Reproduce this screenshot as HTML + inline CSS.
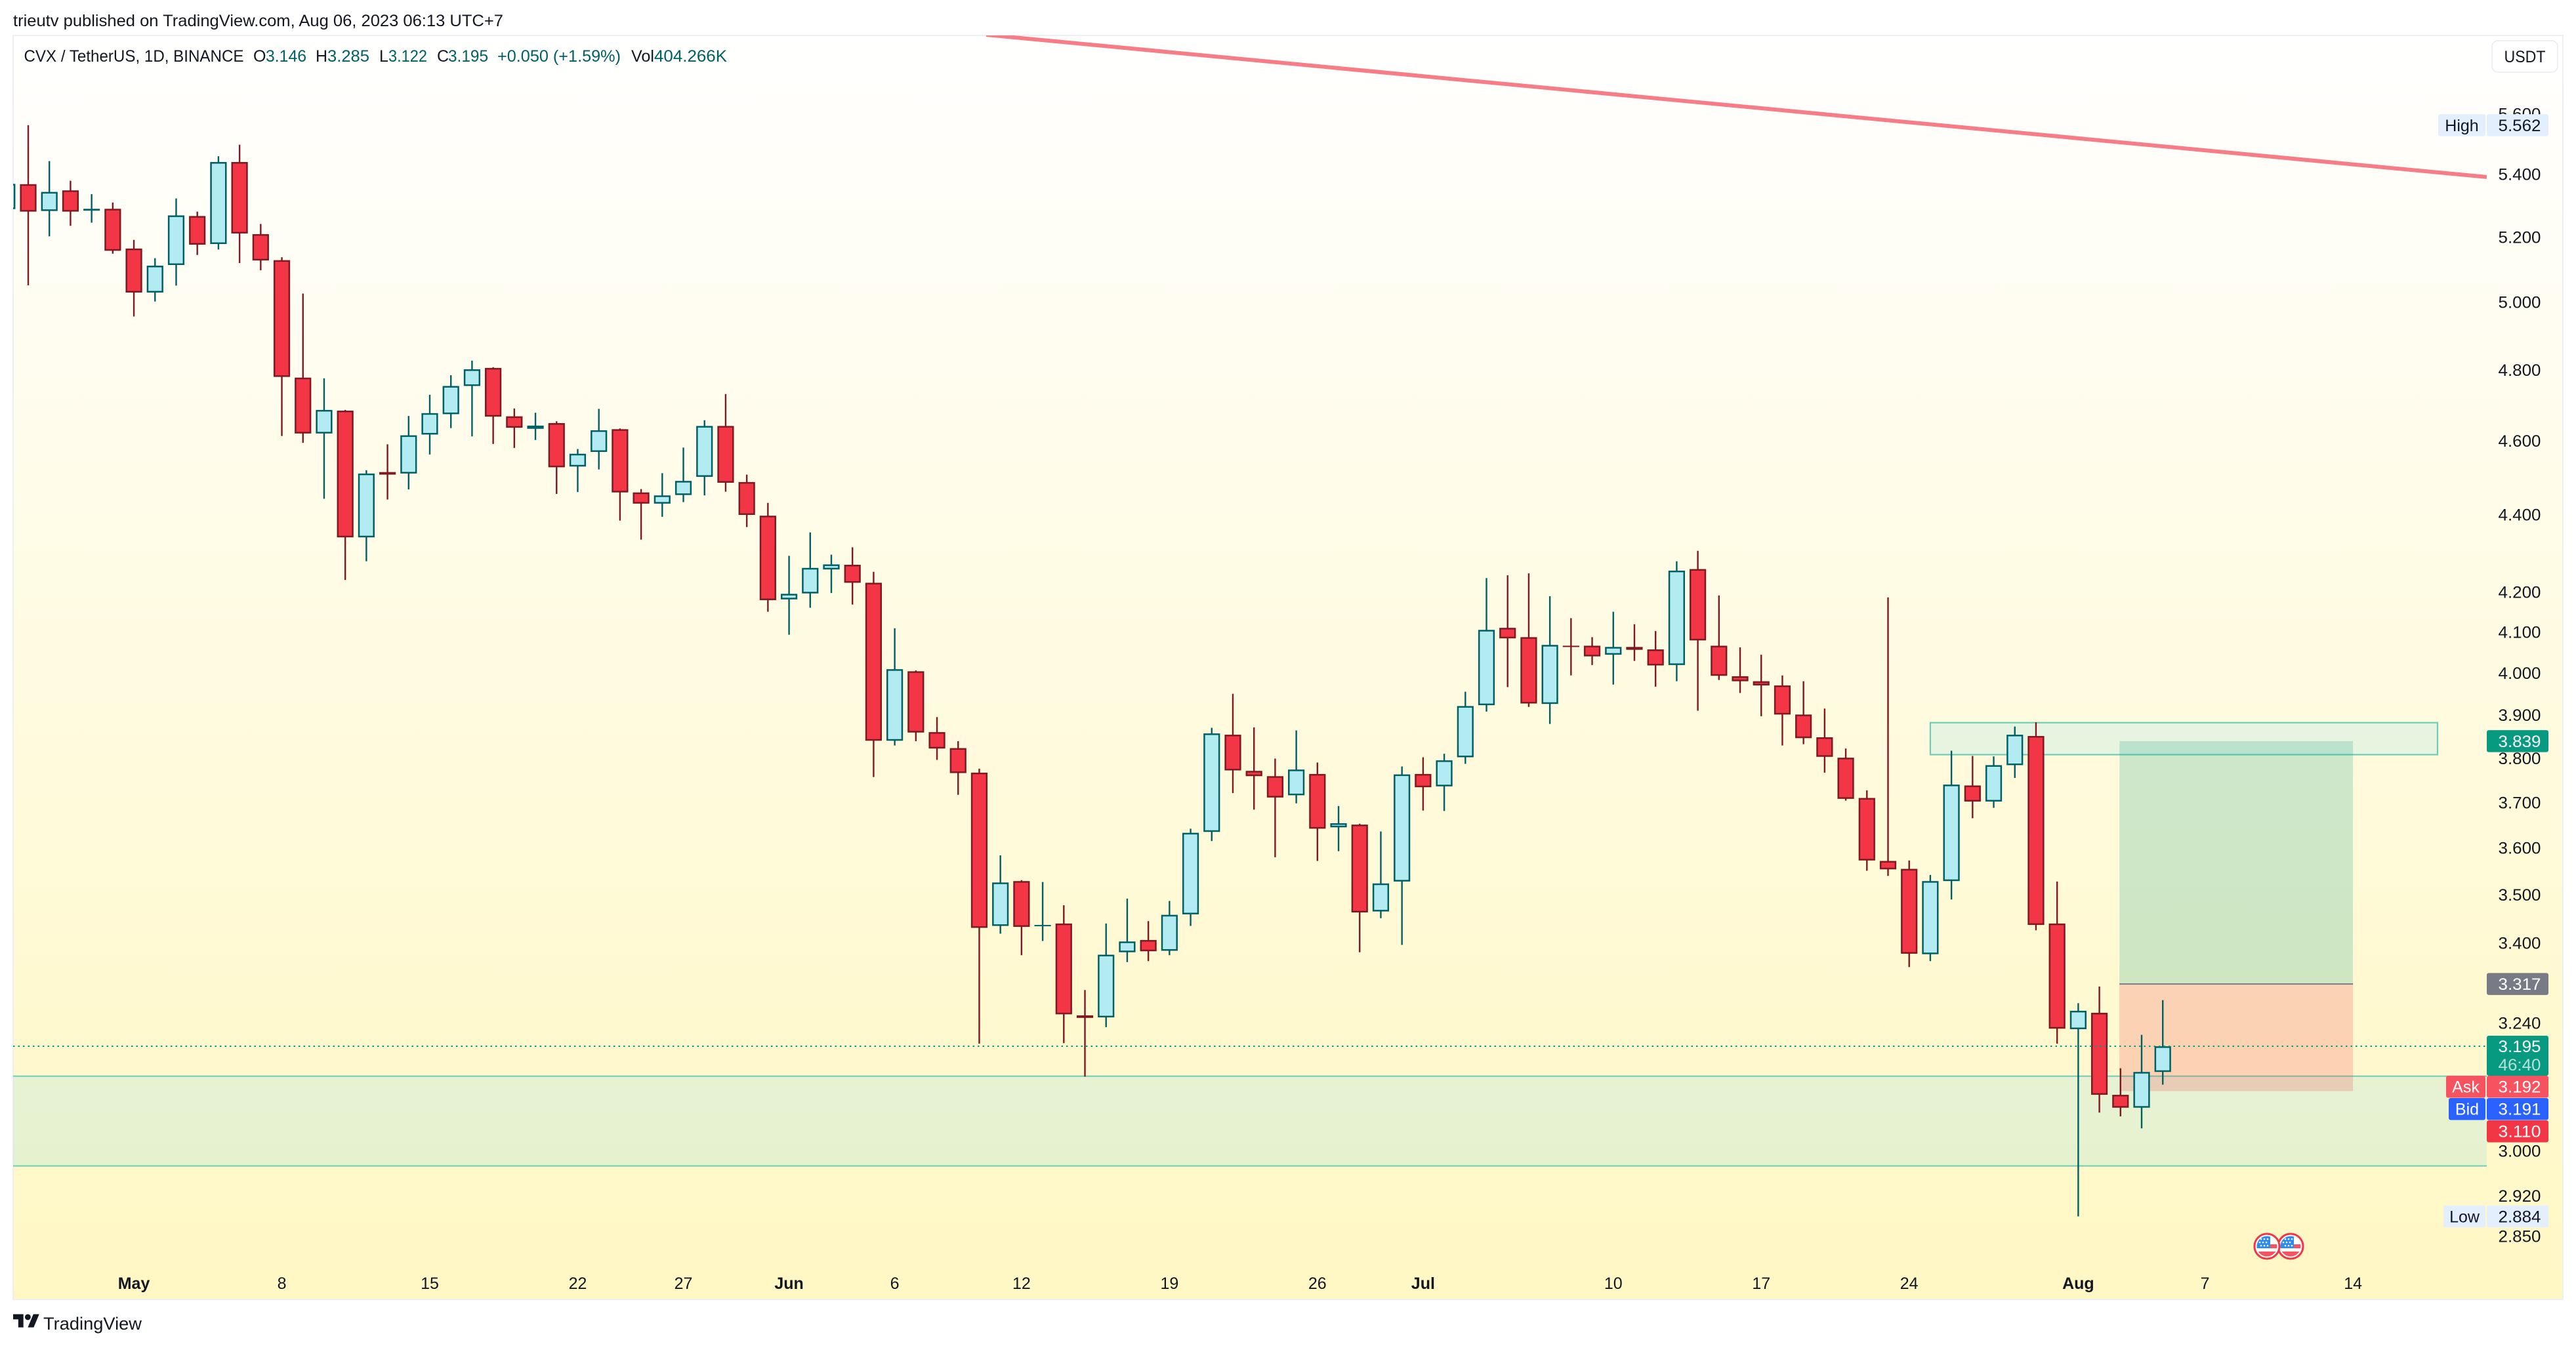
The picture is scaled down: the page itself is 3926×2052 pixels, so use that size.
<!DOCTYPE html>
<html lang="en">
<head>
<meta charset="utf-8">
<title>CVX / TetherUS daily chart</title>
<style>
html,body{margin:0;padding:0;background:#fff;}
svg{display:block;}
text{font-family:"Liberation Sans",sans-serif;}
</style>
</head>
<body>
<svg id="chart" xmlns="http://www.w3.org/2000/svg" width="3926" height="2052" viewBox="0 0 3926 2052">
  <defs>
    <linearGradient id="bgGrad" x1="0" y1="0" x2="0" y2="1">
      <stop offset="0" stop-color="#ffffff"/>
      <stop offset="1" stop-color="#fff7c3"/>
    </linearGradient>
    <clipPath id="paneClip"><rect x="20" y="54" width="3770" height="1927"/></clipPath>
    <clipPath id="flagClipA"><circle cx="3455" cy="1900" r="15.5"/></clipPath>
    <clipPath id="flagClipB"><circle cx="3491" cy="1900" r="15.5"/></clipPath>
  </defs>
  <rect x="0" y="0" width="3926" height="2052" fill="#ffffff"/>
  <text x="20" y="40" font-size="25" fill="#131722" textLength="747" lengthAdjust="spacingAndGlyphs">trieutv published on TradingView.com, Aug 06, 2023 06:13 UTC+7</text>
  <rect x="20" y="54" width="3886" height="1927" fill="url(#bgGrad)" stroke="#eeeff3" stroke-width="2"/>
  <g id="drawingsBack" clip-path="url(#paneClip)"></g>
  <g id="candles" clip-path="url(#paneClip)"></g>
  <g id="drawingsFront" clip-path="url(#paneClip)"></g>
  <g id="timeAxis"></g>
  <g id="priceAxis"></g>
  <g id="priceLabels"></g>

  <g font-size="25">
    <text x="36.5" y="94" fill="#131722" textLength="335" lengthAdjust="spacingAndGlyphs">CVX / TetherUS, 1D, BINANCE</text>
    <text x="386" y="94" fill="#131722">O</text>
    <text x="405" y="94" fill="#006064" textLength="62" lengthAdjust="spacingAndGlyphs">3.146</text>
    <text x="481" y="94" fill="#131722">H</text>
    <text x="499" y="94" fill="#006064" textLength="64" lengthAdjust="spacingAndGlyphs">3.285</text>
    <text x="578" y="94" fill="#131722">L</text>
    <text x="592" y="94" fill="#006064" textLength="59" lengthAdjust="spacingAndGlyphs">3.122</text>
    <text x="666" y="94" fill="#131722">C</text>
    <text x="683" y="94" fill="#006064" textLength="61" lengthAdjust="spacingAndGlyphs">3.195</text>
    <text x="758" y="94" fill="#006064" textLength="188" lengthAdjust="spacingAndGlyphs">+0.050 (+1.59%)</text>
    <text x="962" y="94" fill="#131722" textLength="35" lengthAdjust="spacingAndGlyphs">Vol</text>
    <text x="997" y="94" fill="#006064" textLength="111" lengthAdjust="spacingAndGlyphs">404.266K</text>
  </g>

  <g>
    <rect x="3798" y="62" width="100" height="48" rx="9" fill="#ffffff" stroke="#e8eaf0" stroke-width="1.5"/>
    <text x="3848" y="95" font-size="25" fill="#131722" text-anchor="middle" textLength="63" lengthAdjust="spacingAndGlyphs">USDT</text>
  </g>

  <g>
    <circle cx="3491" cy="1900" r="19" fill="#ffffff" stroke="#f23645" stroke-width="3"/>
    <g clip-path="url(#flagClipB)">
      <rect x="3470" y="1897" width="40" height="6" fill="#f7525f"/>
      <rect x="3470" y="1908" width="40" height="10" fill="#f7525f"/>
      <rect x="3470" y="1884" width="26" height="19" fill="#2e8bf0"/>
      <g fill="#ffffff">
        <circle cx="3483" cy="1889" r="1.3"/><circle cx="3488" cy="1889" r="1.3"/><circle cx="3493" cy="1889" r="1.3"/>
        <circle cx="3480" cy="1894" r="1.3"/><circle cx="3485" cy="1894" r="1.3"/><circle cx="3490" cy="1894" r="1.3"/>
        <circle cx="3483" cy="1899" r="1.3"/><circle cx="3488" cy="1899" r="1.3"/><circle cx="3493" cy="1899" r="1.3"/>
      </g>
    </g>
  </g>
  <g>
    <circle cx="3455" cy="1900" r="19" fill="#ffffff" stroke="#f23645" stroke-width="3"/>
    <g clip-path="url(#flagClipA)">
      <rect x="3435" y="1897" width="40" height="6" fill="#f7525f"/>
      <rect x="3435" y="1908" width="40" height="10" fill="#f7525f"/>
      <rect x="3435" y="1884" width="25" height="19" fill="#2e8bf0"/>
      <g fill="#ffffff">
        <circle cx="3446" cy="1889" r="1.3"/><circle cx="3451" cy="1889" r="1.3"/><circle cx="3456" cy="1889" r="1.3"/>
        <circle cx="3444" cy="1894" r="1.3"/><circle cx="3449" cy="1894" r="1.3"/><circle cx="3454" cy="1894" r="1.3"/>
        <circle cx="3446" cy="1899" r="1.3"/><circle cx="3451" cy="1899" r="1.3"/><circle cx="3456" cy="1899" r="1.3"/>
      </g>
    </g>
  </g>

  <g>
    <g transform="translate(20,1999) scale(1.12)" fill="#131722">
      <path d="M14 22H7V11H0V4h14v18z"/>
      <path d="M28 22h-8l7.5-18h8L28 22z"/>
      <circle cx="20" cy="8" r="4"/>
    </g>
    <text x="66" y="2027" font-size="27" fill="#131722" textLength="150" lengthAdjust="spacingAndGlyphs">TradingView</text>
  </g>
</svg>

<script>
// ---- candle data (daily bars, Apr 25 .. Aug 5 2023) ----
const opens = [5.288,5.368,5.282,5.348,5.283,5.289,5.164,5.029,5.113,5.266,5.178,5.440,5.209,5.128,4.778,4.620,4.684,4.340,4.514,4.510,4.617,4.674,4.754,4.806,4.668,4.633,4.649,4.529,4.569,4.632,4.459,4.429,4.452,4.501,4.641,4.487,4.397,4.181,4.196,4.257,4.269,4.223,3.840,4.004,3.860,3.823,3.767,3.435,3.529,3.436,3.440,3.255,3.251,3.381,3.406,3.384,3.459,3.635,3.854,3.771,3.759,3.716,3.764,3.645,3.651,3.465,3.528,3.764,3.736,3.802,3.923,4.110,4.087,3.926,4.066,4.066,4.044,4.063,4.057,4.019,4.258,4.066,3.992,3.980,3.970,3.901,3.848,3.801,3.710,3.572,3.555,3.377,3.529,3.738,3.702,3.784,3.851,3.440,3.228,3.260,3.103,3.079,3.146];
const highs = [5.400,5.562,5.443,5.379,5.336,5.309,5.191,5.134,5.322,5.280,5.459,5.497,5.241,5.137,5.026,4.776,4.686,4.519,4.590,4.669,4.729,4.785,4.827,4.808,4.690,4.678,4.654,4.577,4.689,4.634,4.468,4.511,4.581,4.657,4.731,4.507,4.431,4.292,4.353,4.295,4.314,4.251,4.109,4.006,3.895,3.839,3.776,3.584,3.531,3.527,3.478,3.305,3.440,3.492,3.445,3.487,3.642,3.870,3.950,3.871,3.799,3.864,3.790,3.692,3.653,3.636,3.781,3.802,3.810,3.955,4.235,4.242,4.247,4.189,4.134,4.087,4.150,4.119,4.102,4.278,4.305,4.191,4.062,4.044,3.994,3.980,3.915,3.822,3.727,4.186,3.573,3.542,3.817,3.805,3.804,3.873,3.883,3.528,3.279,3.312,3.153,3.217,3.285];
const lows = [5.250,5.051,5.202,5.235,5.245,5.148,4.957,5.002,5.050,5.144,5.161,5.119,5.097,4.613,4.594,4.442,4.230,4.278,4.440,4.467,4.562,4.635,4.612,4.591,4.580,4.602,4.455,4.460,4.521,4.384,4.334,4.394,4.433,4.451,4.461,4.367,4.150,4.093,4.160,4.197,4.168,3.757,3.829,3.839,3.796,3.717,3.200,3.419,3.375,3.404,3.201,3.137,3.232,3.361,3.363,3.375,3.435,3.615,3.721,3.684,3.580,3.698,3.572,3.593,3.381,3.451,3.396,3.682,3.681,3.787,3.908,3.966,3.919,3.879,3.994,4.019,3.972,4.029,3.967,3.980,3.910,3.983,3.952,3.897,3.829,3.832,3.767,3.704,3.551,3.540,3.351,3.363,3.490,3.665,3.688,3.755,3.426,3.200,2.884,3.070,3.063,3.041,3.122];
const closes = [5.369,5.280,5.343,5.280,5.289,5.157,5.029,5.111,5.268,5.176,5.440,5.211,5.127,4.780,4.620,4.686,4.340,4.510,4.507,4.615,4.677,4.754,4.802,4.667,4.636,4.642,4.527,4.564,4.629,4.459,4.429,4.451,4.490,4.641,4.485,4.399,4.179,4.195,4.261,4.270,4.223,3.840,4.009,3.859,3.822,3.766,3.431,3.526,3.433,3.437,3.257,3.250,3.376,3.403,3.383,3.458,3.633,3.857,3.772,3.759,3.711,3.774,3.642,3.654,3.463,3.524,3.763,3.734,3.795,3.921,4.105,4.084,3.927,4.068,4.064,4.040,4.063,4.056,4.018,4.254,4.079,3.993,3.980,3.970,3.901,3.846,3.803,3.708,3.573,3.554,3.378,3.529,3.740,3.702,3.784,3.854,3.437,3.229,3.264,3.103,3.079,3.146,3.195];

// ---- axis data ----
const priceTicks = ["5.600","5.400","5.200","5.000","4.800","4.600","4.400","4.200","4.100","4.000","3.900","3.800","3.700","3.600","3.500","3.400","3.240","3.000","2.920","2.850"];
const timeTickLabels = ["May","8","15","22","27","Jun","6","12","19","26","Jul","10","17","24","Aug","7","14"];
const timeTickBars = [6,13,20,27,32,37,42,48,55,62,67,76,83,90,98,104,111];
const timeTickBold = ["May","Jun","Jul","Aug"];

// ---- drawing data (bar index / price) ----
const trendBars = [46.33,117.33];
const trendPrices = [5.873,5.391];
const lowerZonePrices = [3.138,2.973];
const upperZonePrices = [3.882,3.808];
const upperZoneBars = [91.0,115.0];
const positionBars = [99.95,111.0];
const positionPrices = [3.839,3.317,3.110];
const lastPrice = 3.195;

// ---- price tags ----
const askPrice = 3.192;
const bidPrice = 3.191;
const stopPrice = 3.110;
const highPrice = 5.562;
const lowPrice = 2.884;
const countdownText = "46:40";

// ---- scales ----
const PRICE_REF = 5.4, PRICE_REF_Y = 265.7, PX_PER_LN = 2533;
const BAR0_X = 10.8, BAR_STEP = 32.21;
const PANE_LEFT = 20, PANE_RIGHT = 3790;
function yOf(price){ return PRICE_REF_Y + PX_PER_LN * (Math.log(PRICE_REF) - Math.log(price)); }
function xOf(bar){ return BAR0_X + BAR_STEP * bar; }

const NS = "http://www.w3.org/2000/svg";
function make(parent, tag, props, text){
  const el = document.createElementNS(NS, tag);
  for (const k in props) el.setAttribute(k, props[k]);
  if (text !== undefined) el.textContent = text;
  parent.appendChild(el);
  return el;
}

// ---- drawings behind candles ----
const back = document.getElementById("drawingsBack");
const ZONE_LINE = "#6ecdb8";
const ZONE_FILL = "rgba(10,198,255,0.1)";

const lowerTop = yOf(lowerZonePrices[0]), lowerBot = yOf(lowerZonePrices[1]);
const lowerFill = make(back, "rect", {x:PANE_LEFT, y:lowerTop, width:PANE_RIGHT-PANE_LEFT, height:lowerBot-lowerTop, fill:ZONE_FILL});


const lowerTopLine = make(back, "line", {x1:PANE_LEFT, x2:PANE_RIGHT, y1:lowerTop, y2:lowerTop, stroke:ZONE_LINE, "stroke-width":2});


const lowerBotLine = make(back, "line", {x1:PANE_LEFT, x2:PANE_RIGHT, y1:lowerBot, y2:lowerBot, stroke:ZONE_LINE, "stroke-width":2});



const upperTop = yOf(upperZonePrices[0]), upperBot = yOf(upperZonePrices[1]);
const upperZone = make(back, "rect", {x:xOf(upperZoneBars[0]), y:upperTop, width:xOf(upperZoneBars[1])-xOf(upperZoneBars[0]), height:upperBot-upperTop, fill:ZONE_FILL, stroke:ZONE_LINE, "stroke-width":2.2});



const posLeft = xOf(positionBars[0]), posWidth = xOf(positionBars[1]) - posLeft;
const posTarget = yOf(positionPrices[0]), posEntry = yOf(positionPrices[1]), posStop = yOf(positionPrices[2]);
const targetRect = make(back, "rect", {x:posLeft, y:posTarget, width:posWidth, height:posEntry-posTarget, fill:"rgba(8,153,129,0.2)"});


const stopRect = make(back, "rect", {x:posLeft, y:posEntry, width:posWidth, height:posStop-posEntry, fill:"rgba(242,54,69,0.2)"});


const entryLine = make(back, "line", {x1:posLeft, x2:posLeft+posWidth, y1:posEntry, y2:posEntry, stroke:"#787b86", "stroke-width":2});



// ---- candles ----
const candleGroup = document.getElementById("candles");
const BODY_W = 25.2, BORDER = 2.5, WICK_W = 2.4;
opens.forEach(function(open, i){
  const up = closes[i] >= open;
  const cx = xOf(i);
  const edge = up ? "#006064" : "#801922";
  const fill = up ? "#b2ebf2" : "#f23645";
  const top = yOf(Math.max(open, closes[i]));
  const bot = yOf(Math.min(open, closes[i]));
  const wick = make(candleGroup, "rect", {x:cx-WICK_W/2, y:yOf(highs[i]), width:WICK_W, height:yOf(lows[i])-yOf(highs[i]), fill:edge});
  
  
  const outerH = Math.max(bot - top, 2);
  const frame = make(candleGroup, "rect", {x:cx-BODY_W/2, y:top, width:BODY_W, height:outerH, fill:edge});
  
  
  if (outerH > 2*BORDER) {
    const body = make(candleGroup, "rect", {x:cx-BODY_W/2+BORDER, y:top+BORDER, width:BODY_W-2*BORDER, height:outerH-2*BORDER, fill:fill});
    
    
  }
});

// ---- drawings in front of candles ----
const front = document.getElementById("drawingsFront");
const lastY = yOf(lastPrice);
const lastLine = make(front, "line", {x1:PANE_LEFT, x2:PANE_RIGHT, y1:lastY, y2:lastY, stroke:"#089981", "stroke-width":2, "stroke-dasharray":"2.5 5"});


const trendLine = make(front, "line", {x1:xOf(trendBars[0]), x2:xOf(trendBars[1]), y1:yOf(trendPrices[0]), y2:yOf(trendPrices[1]), stroke:"#f77c85", "stroke-width":6});



// ---- axes ----
const timeAxis = document.getElementById("timeAxis");
timeTickLabels.forEach(function(label, i){
  const bold = timeTickBold.indexOf(label) >= 0;
  const t = make(timeAxis, "text", {x:xOf(timeTickBars[i]), y:1965, "font-size":25, fill:"#131722", "text-anchor":"middle", "font-weight":bold?"700":"400"}, label);
  
  
});

const priceAxis = document.getElementById("priceAxis");
priceTicks.forEach(function(label){
  const t = make(priceAxis, "text", {x:3872.5, y:yOf(parseFloat(label))+9, "font-size":25, fill:"#131722", "text-anchor":"end", textLength:65, lengthAdjust:"spacingAndGlyphs"}, label);
  
  
});

// ---- price tags ----
const tagGroup = document.getElementById("priceLabels");
const TAG_X = 3790, TAG_W = 94, TAG_H = 33.5;
function tagBox(x, width, cy, color){
  return make(tagGroup, "rect", {x:x, y:cy-TAG_H/2, width:width, height:TAG_H, rx:3, fill:color});
}
function tagText(x, cy, text, color, anchor){
  const props = {x:x, y:cy+9, "font-size":25, fill:color, "text-anchor":anchor};
  if (/^[0-9]/.test(text)) { props.textLength = 65; props.lengthAdjust = "spacingAndGlyphs"; }
  return make(tagGroup, "text", props, text);
}

const highY = yOf(highPrice);
const highCap = tagBox(3716, 72, highY, "#e3effd");


const highCapT = tagText(3752, highY, "High", "#131722", "middle");


const highVal = tagBox(TAG_X, TAG_W, highY, "#e3effd");


const highValT = tagText(3872.5, highY, highPrice.toFixed(3), "#131722", "end");



const targetY = yOf(positionPrices[0]);
const targetTag = tagBox(TAG_X, TAG_W, targetY, "#089981");


const targetTagT = tagText(3872.5, targetY, positionPrices[0].toFixed(3), "#ffffff", "end");



const entryY = yOf(positionPrices[1]);
const entryTag = tagBox(TAG_X, TAG_W, entryY, "#787b86");


const entryTagT = tagText(3872.5, entryY, positionPrices[1].toFixed(3), "#ffffff", "end");



const lastTag = make(tagGroup, "rect", {x:TAG_X, y:lastY-16, width:TAG_W, height:61, rx:3, fill:"#089981"});


const lastTagT = tagText(3872.5, lastY, lastPrice.toFixed(3), "#ffffff", "end");


const countdown = tagText(3872.5, lastY+28, countdownText, "rgba(255,255,255,0.7)", "end");



const askY = 1656.7;
const askCap = tagBox(3728, 60, askY, "#f7525f");


const askCapT = tagText(3758, askY, "Ask", "#ffffff", "middle");


const askBox = tagBox(TAG_X, TAG_W, askY, "#f7525f");


const askT = tagText(3872.5, askY, askPrice.toFixed(3), "#ffffff", "end");



const bidY = 1690.7;
const bidCap = tagBox(3732, 56, bidY, "#2962ff");


const bidCapT = tagText(3760, bidY, "Bid", "#ffffff", "middle");


const bidBox = tagBox(TAG_X, TAG_W, bidY, "#2962ff");


const bidT = tagText(3872.5, bidY, bidPrice.toFixed(3), "#ffffff", "end");



const stopY = 1724.7;
const stopBox = tagBox(TAG_X, TAG_W, stopY, "#f23645");


const stopT = tagText(3872.5, stopY, stopPrice.toFixed(3), "#ffffff", "end");



const lowY = yOf(lowPrice);
const lowCap = tagBox(3724, 64, lowY, "#e3effd");


const lowCapT = tagText(3756, lowY, "Low", "#131722", "middle");


const lowBox = tagBox(TAG_X, TAG_W, lowY, "#e3effd");


const lowT = tagText(3872.5, lowY, lowPrice.toFixed(3), "#131722", "end");


</script>
</body>
</html>
